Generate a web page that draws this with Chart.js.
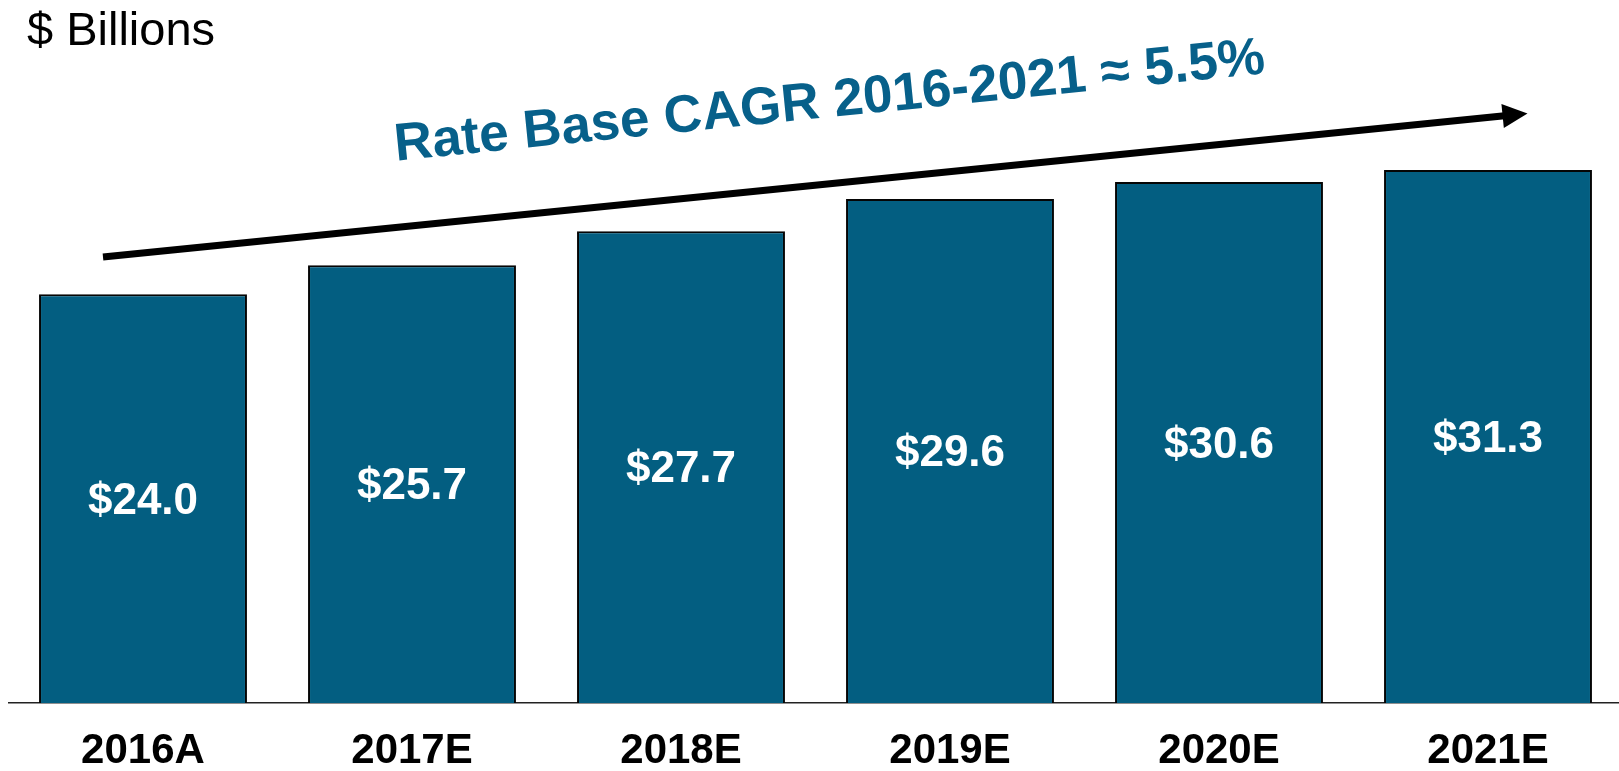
<!DOCTYPE html>
<html>
<head>
<meta charset="utf-8">
<script src="https://cdn.jsdelivr.net/npm/chart.js@4.4.1/dist/chart.umd.min.js"></script>
<style>
  html, body { margin: 0; padding: 0; background: #ffffff; overflow: hidden; }
  #wrap { position: relative; width: 1624px; height: 800px; }
</style>
</head>
<body>
<div id="wrap"><canvas id="c" width="1624" height="800"></canvas></div>
<script>
const categories = ['2016A', '2017E', '2018E', '2019E', '2020E', '2021E'];
const rateBase = [24.0, 25.7, 27.7, 29.6, 30.6, 31.3];
const valueLabels = ['$24.0', '$25.7', '$27.7', '$29.6', '$30.6', '$31.3'];
const unitLabel = '$ Billions';
const cagrLabel = 'Rate Base CAGR 2016-2021 \u2248 5.5%';

const FONT = "'Liberation Sans', Arial, Helvetica, sans-serif";
const BAR = '#035e81';
const TEAL = '#07608a';

const annotations = {
  id: 'annotations',
  afterDatasetsDraw(chart) {
    const ctx = chart.ctx;
    const meta = chart.getDatasetMeta(0);
    ctx.save();
    ctx.fillStyle = '#ffffff';
    ctx.font = 'bold 44px ' + FONT;
    ctx.textAlign = 'center';
    ctx.textBaseline = 'middle';
    meta.data.forEach((bar, i) => {
      const cy = (bar.y + bar.base) / 2 + 3;
      ctx.fillText(valueLabels[i], bar.x, cy);
    });
    ctx.restore();
  },
  afterDraw(chart) {
    const ctx = chart.ctx;
    const area = chart.chartArea;
    ctx.save();
    ctx.fillStyle = '#000000';
    ctx.font = '47px ' + FONT;
    ctx.textAlign = 'left';
    ctx.textBaseline = 'alphabetic';
    ctx.fillText(unitLabel, 27, 45);

    const x0 = area.left + 94.5, y0 = 257;
    const x1 = area.left + 1519, y1 = 113.5;
    const ang = Math.atan2(y1 - y0, x1 - x0);
    const headLen = 25, headHalf = 12;
    const bx = x1 - headLen * Math.cos(ang), by = y1 - headLen * Math.sin(ang);
    ctx.strokeStyle = '#000000';
    ctx.lineWidth = 7;
    ctx.lineCap = 'butt';
    ctx.beginPath();
    ctx.moveTo(x0, y0);
    ctx.lineTo(bx + 2 * Math.cos(ang), by + 2 * Math.sin(ang));
    ctx.stroke();
    ctx.fillStyle = '#000000';
    ctx.beginPath();
    ctx.moveTo(x1, y1);
    ctx.lineTo(bx - headHalf * Math.sin(ang), by + headHalf * Math.cos(ang));
    ctx.lineTo(bx + headHalf * Math.sin(ang), by - headHalf * Math.cos(ang));
    ctx.closePath();
    ctx.fill();

    ctx.translate(831, 117);
    ctx.rotate(ang);
    ctx.fillStyle = TEAL;
    ctx.font = 'bold 53px ' + FONT;
    ctx.textAlign = 'center';
    ctx.textBaseline = 'alphabetic';
    ctx.fillText(cagrLabel, 0, 0);
    ctx.restore();
  }
};

new Chart(document.getElementById('c'), {
  type: 'bar',
  data: {
    labels: categories,
    datasets: [{
      data: rateBase,
      backgroundColor: BAR,
      borderColor: '#050505',
      borderWidth: 2,
      barPercentage: 0.773,
      categoryPercentage: 1.0
    }]
  },
  options: {
    responsive: false,
    animation: false,
    devicePixelRatio: 1,
    layout: { padding: { top: 107, left: 8.5, right: 1.5, bottom: 1 } },
    plugins: {
      legend: { display: false },
      tooltip: { enabled: false },
      title: { display: false }
    },
    scales: {
      x: {
        grid: { display: false, drawTicks: false },
        border: { display: true, color: '#222222', width: 1.5 },
        ticks: {
          color: '#000000',
          padding: 27,
          font: { family: FONT, size: 42, weight: 'bold', lineHeight: 1 },
          maxRotation: 0
        }
      },
      y: {
        display: false,
        min: 0,
        max: 35
      }
    }
  },
  plugins: [annotations]
});
</script>
</body>
</html>
